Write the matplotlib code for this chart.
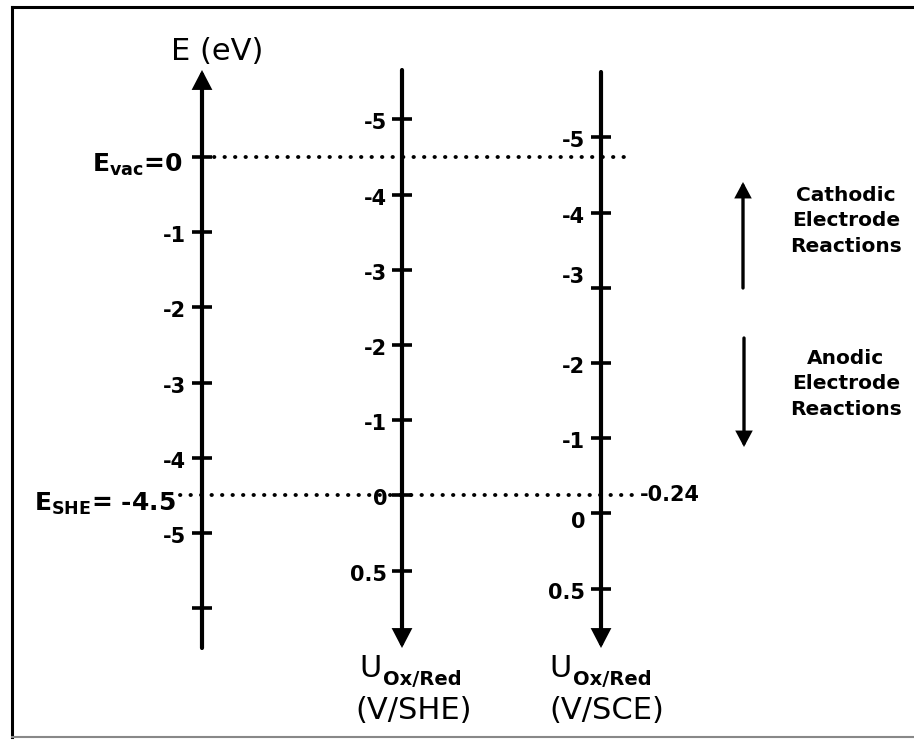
import numpy as np
import matplotlib
matplotlib.use('Agg')
import matplotlib.pyplot as plt
from matplotlib.lines import Line2D

# energy scale, eV vs vacuum
e_ticks = [0, -1, -2, -3, -4, -5, -6]
e_labels = ['', '-1', '-2', '-3', '-4', '-5', '']
e_vac = 0.0
e_she = -4.5
sce_vs_she = 0.24

# electrode potential scales (same ticks on SHE and SCE axes)
u_ticks = [-5, -4, -3, -2, -1, 0, 1]
u_labels = ['-5', '-4', '-3', '-2', '-1', '0', '0.5']

she_pos = e_she - np.array(u_ticks)
sce_pos = e_she - sce_vs_she - np.array(u_ticks)

W, H = 914, 740


def py(y):
    # pixel row -> energy coordinate (layout helper)
    return (157 - y) / 75.2


fig = plt.figure(figsize=(W / 100, H / 100), dpi=100)
ax = fig.add_axes([0, 0, 1, 1])
ax.set_xlim(0, W)
ax.set_ylim(py(H), py(0))
ax.axis('off')

x_e, x_she, x_sce = 202, 402, 601
head = dict(arrowstyle='-|>,head_length=0.48,head_width=0.25', lw=3.0,
            color='k', mutation_scale=20, shrinkA=0, shrinkB=0,
            joinstyle='miter')

# the three vertical scales
ax.annotate('', xy=(x_e, py(70)), xytext=(x_e, py(648)), arrowprops=head)
ax.annotate('', xy=(x_she, py(648)), xytext=(x_she, py(70)), arrowprops=head)
ax.annotate('', xy=(x_sce, py(648)), xytext=(x_sce, py(72)), arrowprops=head)

tick_font = dict(fontsize=15, fontweight='bold', ha='right', va='center')

ax.hlines(e_ticks, x_e - 10, x_e + 10, color='k', lw=2.6)
for v, s in zip(e_ticks, e_labels):
    if s:
        ax.annotate(s, (x_e - 16, v), xytext=(0, -4), textcoords='offset pixels', **tick_font)

ax.hlines(she_pos, x_she - 10, x_she + 10, color='k', lw=2.6)
for v, s in zip(she_pos, u_labels):
    ax.annotate(s, (x_she - 15, v), xytext=(0, -4), textcoords='offset pixels', **tick_font)

sce_nudge = {'-3': 11, '0': -9}
ax.hlines(sce_pos, x_sce - 10, x_sce + 10, color='k', lw=2.6)
for v, s in zip(sce_pos, u_labels):
    ax.annotate(s, (x_sce - 16, v), xytext=(0, sce_nudge.get(s, -4)),
                textcoords='offset pixels', **tick_font)

# reference levels
dots = dict(color='k', lw=2.8, ls=(0, (0.1, 2.6)), dash_capstyle='round')
ax.plot([x_e + 12, 627], [e_vac, e_vac], **dots)
ax.plot([180, 632], [e_she, e_she], **dots)
ax.text(640, e_she, '-0.24', fontsize=15, fontweight='bold', ha='left', va='center')

ax.annotate(r'$\mathbf{E}_{\mathbf{vac}}$=0', (183, e_vac), xytext=(0, -15),
            textcoords='offset pixels', fontsize=18, fontweight='bold',
            ha='right', va='baseline')
ax.annotate(r'$\mathbf{E}_{\mathbf{SHE}}$= -4.5', (176, e_she), xytext=(0, -15),
            textcoords='offset pixels', fontsize=18, fontweight='bold',
            ha='right', va='baseline')

# axis titles
ax.text(217, py(52), 'E (eV)', fontsize=22, ha='center', va='center')
for xu, xs, name in [(371, 414, '(V/SHE)'), (561, 607, '(V/SCE)')]:
    ax.text(xu, py(677), 'U', fontsize=22, ha='center', va='baseline')
    ax.text(xu + 12, py(685), 'Ox/Red', fontsize=14, fontweight='bold',
            ha='left', va='baseline')
    ax.text(xs, py(711), name, fontsize=22, ha='center', va='center')

# direction of electrode reactions
small_head = dict(arrowstyle='-|>,head_length=0.45,head_width=0.24', lw=2.4,
                  color='k', mutation_scale=18, shrinkA=0, shrinkB=0,
                  joinstyle='miter')
ax.annotate('', xy=(743, py(182)), xytext=(743, py(288)), arrowprops=small_head)
ax.annotate('', xy=(744, py(447)), xytext=(744, py(338)), arrowprops=small_head)
ax.text(846, py(221), 'Cathodic\nElectrode\nReactions', fontsize=14.5,
        fontweight='bold', ha='center', va='center', linespacing=1.45)
ax.text(846, py(384), 'Anodic\nElectrode\nReactions', fontsize=14.5,
        fontweight='bold', ha='center', va='center', linespacing=1.45)

# frame around the drawing (right edge cut off in the original)
fig.add_artist(Line2D([12 / W, 1], [1 - 7 / H, 1 - 7 / H], color='k', lw=2.2))
fig.add_artist(Line2D([12 / W, 12 / W], [1 - 7 / H, 1 - 737 / H], color='k', lw=2.2))
fig.add_artist(Line2D([12 / W, 1], [1 - 737 / H, 1 - 737 / H], color='#888888', lw=1.5))

fig.savefig('out.png', dpi=100)
